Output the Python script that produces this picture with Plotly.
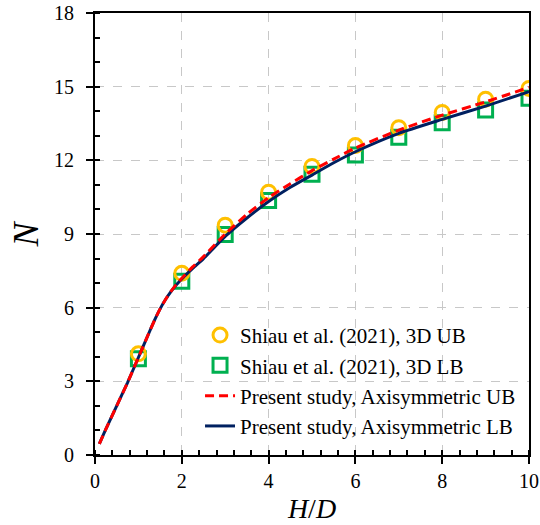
import plotly.graph_objects as go

# Marker data (Shiau et al. 2021, 3D)
hd_pts = [1, 2, 3, 4, 5, 6, 7, 8, 9, 10]
shiau_ub = [4.12, 7.40, 9.36, 10.70, 11.75, 12.60, 13.33, 13.95, 14.49, 14.93]
shiau_lb = [3.92, 7.08, 8.98, 10.36, 11.43, 12.22, 12.94, 13.53, 14.05, 14.53]

# Present study curves (axisymmetric)
hd_curve = [0.1, 0.25, 0.5, 0.75, 1.0, 1.25, 1.375, 1.5, 1.625, 1.75, 1.875, 2.0, 2.25, 2.5,
            3.0, 3.5, 4.0, 4.5, 5.0, 5.5, 6.0, 7.0, 8.0, 9.0, 10.0]
present_ub = [0.45, 1.05, 2.00, 2.95, 3.97, 5.00, 5.50, 5.95, 6.33, 6.66, 6.95, 7.20, 7.66, 8.08,
              9.00, 9.80, 10.48, 11.05, 11.58, 12.05, 12.50, 13.23, 13.84, 14.38, 14.97]
present_lb = [0.45, 1.05, 2.00, 2.95, 3.97, 5.00, 5.50, 5.95, 6.33, 6.65, 6.93, 7.17, 7.60, 8.00,
              8.90, 9.65, 10.32, 10.90, 11.40, 11.90, 12.35, 13.10, 13.67, 14.21, 14.80]

x_ticks = [0, 2, 4, 6, 8, 10]
y_ticks = [0, 3, 6, 9, 12, 15, 18]

FONT = "Liberation Serif"

fig = go.Figure()

fig.add_trace(go.Scatter(
    x=hd_pts, y=shiau_lb, mode="markers", name="Shiau et al. (2021), 3D LB",
    marker=dict(symbol="square-open", size=14, color="#00B050", line=dict(width=3, color="#00B050")),
    legendrank=2,
))
fig.add_trace(go.Scatter(
    x=hd_pts, y=shiau_ub, mode="markers", name="Shiau et al. (2021), 3D UB",
    marker=dict(symbol="circle-open", size=14, color="#FFC000", line=dict(width=3, color="#FFC000")),
    legendrank=1,
))
fig.add_trace(go.Scatter(
    x=hd_curve, y=present_lb, mode="lines", name="Present study, Axisymmetric LB",
    line=dict(color="#002060", width=3, shape="spline", smoothing=0.6),
    legendrank=4,
))
fig.add_trace(go.Scatter(
    x=hd_curve, y=present_ub, mode="lines", name="Present study, Axisymmetric UB",
    line=dict(color="#FF0000", width=3, dash="9px,5px", shape="spline", smoothing=0.6),
    legendrank=3,
))
# empty trace to activate the overlay axes (inner half of crossing major ticks)
fig.add_trace(go.Scatter(x=[], y=[], xaxis="x2", yaxis="y2", showlegend=False, hoverinfo="skip"))

fig.update_layout(
    width=540, height=525,
    margin=dict(l=95, r=11, t=13, b=70),
    paper_bgcolor="white", plot_bgcolor="white",
    font=dict(family=FONT, size=20, color="black"),
    showlegend=True,
    legend=dict(
        x=0.242, y=0.317, xanchor="left", yanchor="top",
        bgcolor="rgba(0,0,0,0)", borderwidth=0,
        font=dict(family=FONT, size=21, color="black"),
        traceorder="normal", itemwidth=30,
    ),
    xaxis=dict(
        range=[0, 10], tickvals=x_ticks, ticktext=[str(v) for v in x_ticks],
        automargin=False, ticklabeloverflow="allow",
        showline=True, linecolor="black", linewidth=2, mirror=True,
        ticks="outside", ticklen=7, tickwidth=2, tickcolor="black",
        minor=dict(dtick=0.4, tick0=0, ticks="inside", ticklen=5, tickwidth=2,
                   tickcolor="black", showgrid=False),
        showgrid=True, gridcolor="#C8C8C8", griddash="dash", gridwidth=1,
        zeroline=False,
        tickfont=dict(family=FONT, size=20, color="black"),
        title=dict(text="<i>H</i>/<i>D</i>", font=dict(family=FONT, size=28, color="black"), standoff=7),
    ),
    yaxis=dict(
        range=[0, 18], tickvals=y_ticks, ticktext=[str(v) for v in y_ticks],
        automargin=False, ticklabeloverflow="allow",
        showline=True, linecolor="black", linewidth=2, mirror=True,
        ticks="outside", ticklen=7, tickwidth=2, tickcolor="black",
        ticklabelstandoff=8,
        minor=dict(dtick=1, tick0=0, ticks="inside", ticklen=5, tickwidth=2,
                   tickcolor="black", showgrid=False),
        showgrid=True, gridcolor="#C8C8C8", griddash="dash", gridwidth=1,
        zeroline=False,
        tickfont=dict(family=FONT, size=20, color="black"),
    ),
    xaxis2=dict(
        overlaying="x", anchor="y", side="bottom", range=[0, 10], tickvals=x_ticks,
        automargin=False,
        showticklabels=False, ticks="inside", ticklen=4, tickwidth=2, tickcolor="black",
        showgrid=False, showline=False, zeroline=False,
    ),
    yaxis2=dict(
        overlaying="y", anchor="x", side="left", range=[0, 18], tickvals=y_ticks,
        automargin=False,
        showticklabels=False, ticks="inside", ticklen=5, tickwidth=2, tickcolor="black",
        showgrid=False, showline=False, zeroline=False,
    ),
    annotations=[dict(
        text="<i>N</i>", xref="paper", yref="paper", x=-0.16, y=0.5,
        xanchor="center", yanchor="middle", textangle=-90, showarrow=False,
        font=dict(family=FONT, size=36, color="black"),
    )],
)

fig.write_html("out.html", config={"displayModeBar": False},
               post_script="document.body.style.margin='0';")
